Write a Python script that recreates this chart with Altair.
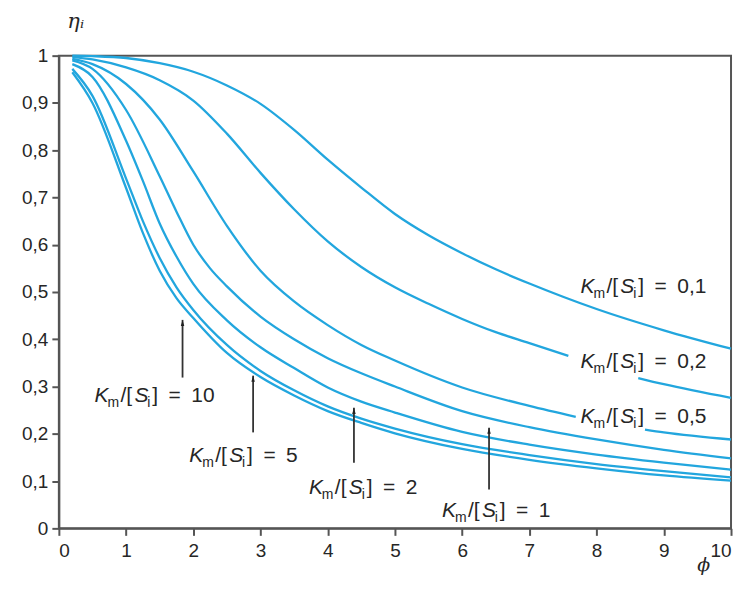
import altair as alt
import pandas as pd

# --- curves (phi, eta) ---
phi_01 = [0.2, 0.5, 1.0, 1.5, 2.0, 2.5, 3.0, 3.5, 4.0, 4.5, 5.0, 5.5, 6.0, 6.5, 7.0, 7.5, 8.0, 9.0, 10.0]
eta_01 = [1.0, 0.999, 0.995, 0.984, 0.966, 0.937, 0.898, 0.843, 0.78, 0.721, 0.665, 0.62, 0.582, 0.548, 0.518, 0.49, 0.464, 0.419, 0.38]

phi_02 = [0.2, 0.5, 1.0, 1.5, 2.0, 2.5, 3.0, 3.5, 4.0, 4.5, 5.0, 5.5, 6.0, 6.5, 7.0, 7.58, 8.62, 9.0, 10.0]
eta_02 = [0.997, 0.992, 0.975, 0.948, 0.905, 0.835, 0.752, 0.675, 0.607, 0.553, 0.51, 0.475, 0.443, 0.415, 0.392, 0.365, 0.318, 0.305, 0.276]
seg_02 = ["a"] * 16 + ["b"] * 3

phi_05 = [0.2, 0.5, 1.0, 1.5, 2.0, 2.5, 3.0, 3.5, 4.0, 4.5, 5.0, 6.0, 7.0, 7.69, 8.72, 9.0, 10.0]
eta_05 = [0.993, 0.982, 0.94, 0.865, 0.755, 0.64, 0.545, 0.48, 0.43, 0.388, 0.355, 0.298, 0.259, 0.236, 0.209, 0.203, 0.188]
seg_05 = ["a"] * 14 + ["b"] * 3

phi_1 = [0.2, 0.5, 1.0, 1.5, 1.75, 2.0, 2.25, 2.5, 3.0, 3.5, 4.0, 4.5, 5.0, 6.0, 7.0, 8.0, 9.0, 10.0]
eta_1 = [0.99, 0.972, 0.885, 0.745, 0.67, 0.60, 0.55, 0.512, 0.448, 0.4, 0.36, 0.328, 0.3, 0.248, 0.214, 0.188, 0.166, 0.148]

phi_2 = [0.2, 0.5, 1.0, 1.25, 1.5, 1.75, 2.0, 2.5, 3.0, 3.5, 4.0, 4.5, 5.0, 6.0, 7.0, 8.0, 9.0, 10.0]
eta_2 = [0.982, 0.955, 0.82, 0.735, 0.645, 0.575, 0.517, 0.44, 0.383, 0.339, 0.298, 0.268, 0.245, 0.204, 0.177, 0.156, 0.139, 0.124]

phi_5 = [0.2, 0.5, 1.0, 1.25, 1.5, 1.75, 2.0, 2.5, 3.0, 3.5, 4.0, 4.5, 5.0, 6.0, 7.0, 8.0, 9.0, 10.0]
eta_5 = [0.972, 0.915, 0.74, 0.65, 0.572, 0.51, 0.462, 0.388, 0.333, 0.292, 0.258, 0.232, 0.211, 0.178, 0.155, 0.136, 0.121, 0.108]

phi_10 = [0.2, 0.5, 1.0, 1.25, 1.5, 1.75, 2.0, 2.5, 3.0, 3.5, 4.0, 4.5, 5.0, 6.0, 7.0, 8.0, 9.0, 10.0]
eta_10 = [0.965, 0.9, 0.72, 0.625, 0.545, 0.487, 0.445, 0.371, 0.32, 0.281, 0.248, 0.223, 0.201, 0.168, 0.145, 0.127, 0.112, 0.101]

# --- labels ---
label_value = ["0,1", "0,2", "0,5", "1", "2", "5", "10"]
label_phi = [7.76, 7.76, 7.76, 5.70, 3.72, 1.94, 0.53]
label_eta = [0.498, 0.340, 0.2236, 0.023, 0.072, 0.141, 0.268]

# --- arrows ---
arrow_phi = [1.84, 2.89, 4.39, 6.4]
arrow_base = [0.319, 0.203, 0.139, 0.082]
arrow_tip = [0.441, 0.323, 0.255, 0.213]

x_ticks = list(range(0, 11))
y_ticks = [0, 0.1, 0.2, 0.3, 0.4, 0.5, 0.6, 0.7, 0.8, 0.9, 1.0]

rows = []
def add(name, phis, etas, segs=None):
    for i, (p, e) in enumerate(zip(phis, etas)):
        rows.append({"curve": name, "seg": name + (segs[i] if segs else "a"), "phi": p, "eta": e})

add("0.1", phi_01, eta_01)
add("0.2", phi_02, eta_02, seg_02)
add("0.5", phi_05, eta_05, seg_05)
add("1", phi_1, eta_1)
add("2", phi_2, eta_2)
add("5", phi_5, eta_5)
add("10", phi_10, eta_10)
curves = pd.DataFrame(rows)

labels = pd.DataFrame({
    "phi": label_phi,
    "eta": label_eta,
    "rest": ["]\u2002=\u2002" + v for v in label_value],
})
arrows = pd.DataFrame({"phi": arrow_phi, "eta": arrow_base, "eta2": arrow_tip})
heads = pd.DataFrame({"phi": arrow_phi, "eta": arrow_tip})

TXT = "#262626"
FONT = "Liberation Sans"

x_enc = alt.X(
    "phi:Q",
    scale=alt.Scale(domain=[0, 10], nice=False),
    axis=alt.Axis(
        values=x_ticks, title="ϕ", titleFontStyle="italic", titleFont="DejaVu Serif",
        titleFontSize=19, titleFontWeight="normal", titleColor=TXT,
        titleX=646, titleY=46, titleAlign="center", titleBaseline="bottom",
        labelPadding=6,
    ),
)
y_enc = alt.Y(
    "eta:Q",
    scale=alt.Scale(domain=[0, 1], nice=False),
    axis=alt.Axis(
        values=y_ticks,
        labelExpr="replace(format(datum.value, '.1~f'), '.', ',')",
        title="ηᵢ", titleAngle=0, titleAlign="left", titleBaseline="top",
        titleX=8, titleY=-45, titleFont="DejaVu Serif", titleFontStyle="italic",
        titleFontSize=21, titleFontWeight="normal", titleColor=TXT, labelPadding=4,
    ),
)

lines = alt.Chart(curves).mark_line(
    color="#22a6de", strokeWidth=2.3, interpolate="monotone"
).encode(x=x_enc, y=y_enc, detail="seg:N")

arrow_rules = alt.Chart(arrows).mark_rule(color="#333", strokeWidth=1.8).encode(
    x=x_enc, y=y_enc, y2="eta2:Q"
)
arrow_heads = alt.Chart(heads).mark_point(
    shape="M0,0L-0.45,1.6L0.45,1.6Z", filled=True, color="#222", size=60, opacity=1
).encode(x=x_enc, y=y_enc)

base_lab = alt.Chart(labels)
pieces = [
    dict(text="K", dx=0, dy=0, size=21, style="italic"),
    dict(text="m", dx=13, dy=5, size=14, style="normal"),
    dict(text="/[", dx=26, dy=0, size=21, style="normal"),
    dict(text="S", dx=40, dy=0, size=21, style="italic"),
    dict(text="i", dx=53, dy=5, size=14, style="normal"),
]
label_layers = []
for pc in pieces:
    label_layers.append(
        base_lab.mark_text(
            align="left", baseline="alphabetic", dx=pc["dx"], dy=pc["dy"],
            fontSize=pc["size"], fontStyle=pc["style"], font=FONT, color=TXT,
        ).encode(x=x_enc, y=y_enc, text=alt.value(pc["text"]))
    )
label_layers.append(
    base_lab.mark_text(
        align="left", baseline="alphabetic", dx=58, fontSize=21, font=FONT, color=TXT,
    ).encode(x=x_enc, y=y_enc, text="rest:N")
)

chart = alt.layer(lines, arrow_rules, arrow_heads, *label_layers).properties(
    width=674, height=474,
    padding={"left": 51, "top": 47, "right": 8, "bottom": 48},
    autosize=alt.AutoSizeParams(type="none"),
).configure_view(
    stroke="#555", strokeWidth=2
).configure_axis(
    domainColor="#555", domainWidth=2, tickColor="#555", tickWidth=2, tickSize=7,
    labelFont=FONT, labelFontSize=19, labelColor=TXT, grid=False,
)

chart.save("out.html", embed_options={"renderer": "svg", "actions": False})
